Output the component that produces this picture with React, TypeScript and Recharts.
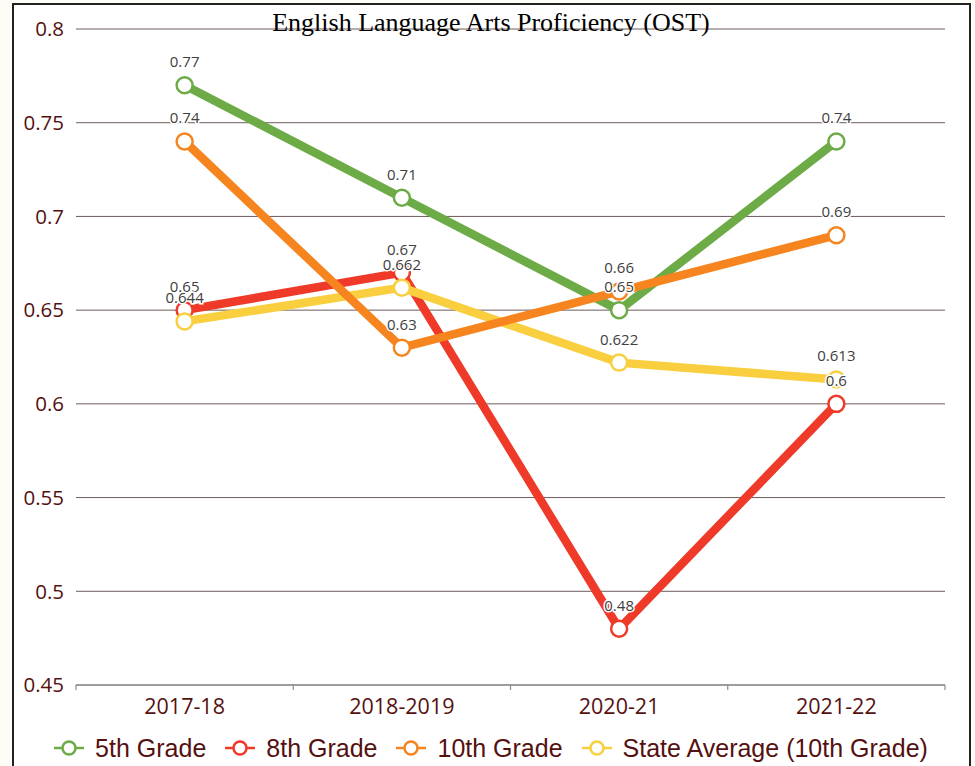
import React from 'react';
import { LineChart, Line, XAxis, YAxis, CartesianGrid, LabelList } from 'recharts';

const categories = ['2017-18', '2018-2019', '2020-21', '2021-22'];
const grade5 = [0.77, 0.71, 0.65, 0.74];
const grade8 = [0.65, 0.67, 0.48, 0.6];
const grade10 = [0.74, 0.63, 0.66, 0.69];
const stateAvg = [0.644, 0.662, 0.622, 0.613];
const yTicks = [0.45, 0.5, 0.55, 0.6, 0.65, 0.7, 0.75, 0.8];
const seriesNames = ['5th Grade', '8th Grade', '10th Grade', 'State Average (10th Grade)'];
const seriesKeys = ['g5', 'g8', 'g10', 'state'];
const seriesColors = ['#6CAB46', '#EF3A2A', '#F6841F', '#F9CF3F'];
const title = 'English Language Arts Proficiency (OST)';

const data = categories.map((c, i) => ({
  category: c,
  g5: grade5[i],
  g8: grade8[i],
  g10: grade10[i],
  state: stateAvg[i],
}));

const W = 975;
const H = 766;
const M = { top: 29, right: 30, left: 0, bottom: 45 };
const Y_W = 76;
const X_H = 36;
const PLOT_L = M.left + Y_W;
const PLOT_R = W - M.right;
const BAND = (PLOT_R - PLOT_L) / categories.length;
const MAROON = '#551010';

const lineOrder = [0, 1, 3, 2];
const labelOrder = [0, 1, 2, 3];

const XTick = (props: any) => {
  const { x, y, payload, index } = props;
  const half = BAND / 2;
  return (
    <g>
      <line x1={x - half} y1={y} x2={x - half} y2={y + 5} stroke="#8c8c8c" strokeWidth={1.2} />
      {index === categories.length - 1 && (
        <line x1={x + half} y1={y} x2={x + half} y2={y + 5} stroke="#8c8c8c" strokeWidth={1.2} />
      )}
      <text x={x} y={y + 29} textAnchor="middle" fontSize={21.5} fill={MAROON} fontFamily="'Open Sans', 'Noto Sans', sans-serif">
        {payload.value}
      </text>
    </g>
  );
};

const DataLabel = (props: any) => {
  const { x, y, value } = props;
  if (x == null || y == null) return null;
  return (
    <text
      x={x}
      y={y - 18}
      textAnchor="middle"
      style={{ fontSize: 15, fontFamily: "'Open Sans', 'Noto Sans', sans-serif" }}
      fill="#404040"
      stroke="#ffffff"
      strokeWidth={3}
      paintOrder="stroke"
    >
      {String(value)}
    </text>
  );
};

const LegendIcon = ({ color }: { color: string }) => (
  <svg width={30} height={18} style={{ display: 'block' }}>
    <line x1={0} y1={9} x2={30} y2={9} stroke={color} strokeWidth={2.5} />
    <circle cx={15} cy={9} r={6.5} fill="#fff" stroke={color} strokeWidth={2.5} />
  </svg>
);

export default function App() {
  return (
    <div style={{ position: 'fixed', left: 0, top: 0, width: W, height: H, overflow: 'hidden', background: '#fdfcf6' }}>
      <div
        style={{
          position: 'absolute',
          left: 12,
          top: 3,
          width: 955,
          height: 800,
          border: '2px solid #222',
          background: '#ffffff',
        }}
      />
      <div style={{ position: 'absolute', left: 0, top: 0 }}>
        <LineChart width={W} height={H} data={data} margin={M}>
          <CartesianGrid horizontal vertical={false} stroke="#6e5a5a" strokeWidth={1} />
          <XAxis
            dataKey="category"
            height={X_H}
            padding={{ left: BAND / 2, right: BAND / 2 }}
            axisLine={{ stroke: '#8c8c8c', strokeWidth: 1.2 }}
            tickLine={false}
            tickSize={0}
            tickMargin={0}
            interval={0}
            tick={<XTick />}
          />
          <YAxis
            width={Y_W}
            domain={[0.45, 0.8]}
            ticks={yTicks}
            type="number"
            axisLine={false}
            tickLine={false}
            tickSize={6}
            tickMargin={6}
            allowDataOverflow
            tickFormatter={(v: number) => String(v)}
            tick={{ fill: MAROON, fontSize: 20.5, fontFamily: "'Open Sans', 'Noto Sans', sans-serif" }}
          />
          {lineOrder.map((i) => (
            <Line
              key={'line-' + seriesKeys[i]}
              dataKey={seriesKeys[i]}
              name={seriesNames[i]}
              stroke={seriesColors[i]}
              strokeWidth={8.5}
              dot={false}
              activeDot={false}
              legendType="none"
              isAnimationActive={false}
            />
          ))}
          {lineOrder.map((i) => (
            <Line
              key={'dot-' + seriesKeys[i]}
              dataKey={seriesKeys[i]}
              stroke="none"
              dot={{ r: 8, fill: '#ffffff', stroke: seriesColors[i], strokeWidth: 2.5 }}
              activeDot={false}
              legendType="none"
              isAnimationActive={false}
            />
          ))}
          {labelOrder.map((i) => (
            <Line
              key={'lab-' + seriesKeys[i]}
              dataKey={seriesKeys[i]}
              stroke="none"
              dot={false}
              activeDot={false}
              legendType="none"
              isAnimationActive={false}
            >
              <LabelList dataKey={seriesKeys[i]} content={<DataLabel />} />
            </Line>
          ))}
        </LineChart>
      </div>
      <div
        style={{
          position: 'absolute',
          left: 0,
          top: 8,
          width: 982,
          textAlign: 'center',
          fontFamily: "'Liberation Serif', 'Times New Roman', serif",
          fontSize: 26,
          lineHeight: '30px',
          color: '#000',
        }}
      >
        {title}
      </div>
      <div
        style={{
          position: 'absolute',
          left: 0,
          top: 733,
          width: 982,
          display: 'flex',
          justifyContent: 'center',
          alignItems: 'center',
          fontFamily: "'Liberation Sans', Arial, sans-serif",
          fontSize: 25,
          lineHeight: '30px',
          color: MAROON,
        }}
      >
        {seriesNames.map((n, i) => (
          <div key={n} style={{ display: 'flex', alignItems: 'center', marginRight: i < seriesNames.length - 1 ? 19 : 0 }}>
            <LegendIcon color={seriesColors[i]} />
            <span style={{ marginLeft: 11 }}>{n}</span>
          </div>
        ))}
      </div>
    </div>
  );
}
